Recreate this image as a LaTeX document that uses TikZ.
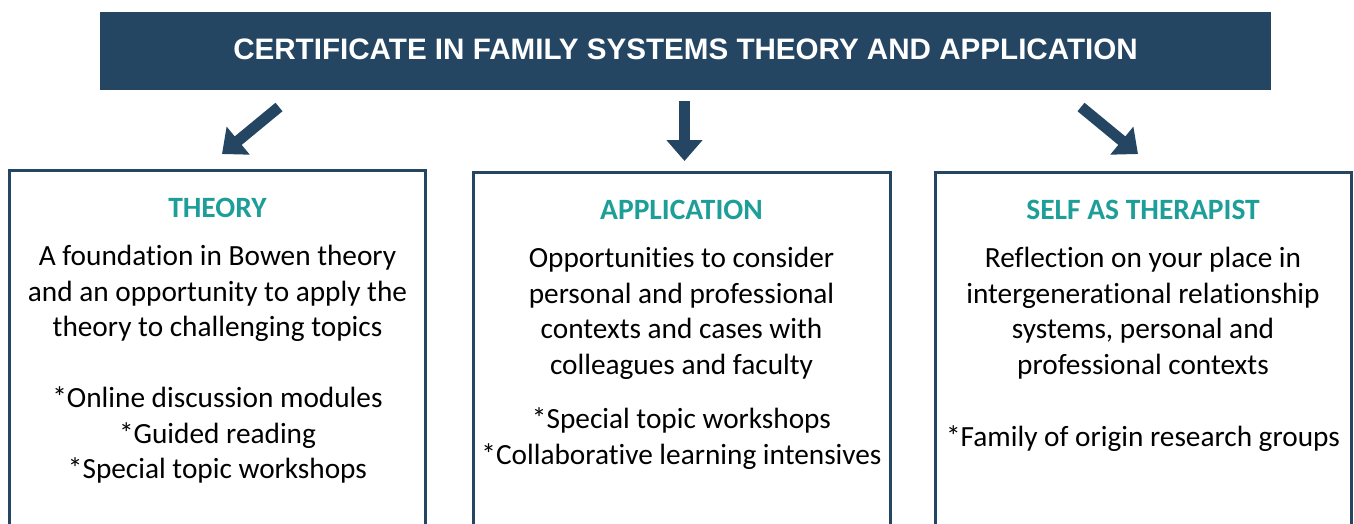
\documentclass[tikz,border=0pt]{standalone}
\usepackage{fontspec}
\setmainfont{Carlito}[Ligatures=NoCommon]
\newfontfamily\titlefont{Liberation Sans}
\usetikzlibrary{arrows.meta}
\definecolor{navy}{HTML}{244663}
\definecolor{teal2}{HTML}{1E9E99}
\tikzset{
  boxframe/.style={draw=navy,line width=3pt},
  bigarrow/.style={navy,line width=11pt,-{Triangle[width=35pt,length=21pt]}},
  head/.style={text=teal2,font=\fontsize{29.5}{34}\selectfont\bfseries,anchor=base},
  body/.style={align=center,font=\fontsize{29.3}{35.5}\selectfont,anchor=north,inner sep=0pt},
}
\begin{document}
\begin{tikzpicture}[x=1pt,y=-1pt]
\useasboundingbox (0,0) rectangle (1354,523);
\clip (0,0) rectangle (1354,523);
\fill[navy] (100,12) rectangle (1271,90);
\node[text=white,font=\titlefont\fontsize{29.6}{34}\selectfont\bfseries] (title) at (685.5,49) {CERTIFICATE IN FAMILY SYSTEMS THEORY AND APPLICATION};
% boxes
\draw[boxframe] (9.5,540) -- (9.5,170.5) -- (425.5,170.5) -- (425.5,540);
\draw[boxframe] (473,540) -- (473,172.5) -- (890.5,172.5) -- (890.5,540);
\draw[boxframe] (935.5,540) -- (935.5,172.5) -- (1351.5,172.5) -- (1351.5,540);
% arrows
\coordinate (a1s) at (279,107); \coordinate (a1e) at (222,154);
\coordinate (a2s) at (684.5,101); \coordinate (a2e) at (684.5,161);
\coordinate (a3s) at (1081,107); \coordinate (a3e) at (1138,154);
\draw[bigarrow] (a1s) -- (a1e);
\draw[bigarrow] (a2s) -- (a2e);
\draw[bigarrow] (a3s) -- (a3e);
% texts
\node[head] (h1) at (217.5,217) {THEORY};
\node[body] (b1) at (217.5,245) {A foundation in Bowen theory\\and an opportunity to apply the\\theory to challenging topics\\[35.5pt]*Online discussion modules\\*Guided reading\\*Special topic workshops};
\node[head] (h2) at (681.5,219) {APPLICATION};
\node[body] (b2) at (681.5,247) {Opportunities to consider\\personal and professional\\contexts and cases with\\colleagues and faculty\\[19pt]*Special topic workshops\\*Collaborative learning intensives};
\node[head] (h3) at (1143,219) {SELF AS THERAPIST};
\node[body] (b3) at (1143,247) {Reflection on your place in\\intergenerational relationship\\systems, personal and\\professional contexts\\[37pt]*Family of origin research groups};
\end{tikzpicture}
\end{document}
